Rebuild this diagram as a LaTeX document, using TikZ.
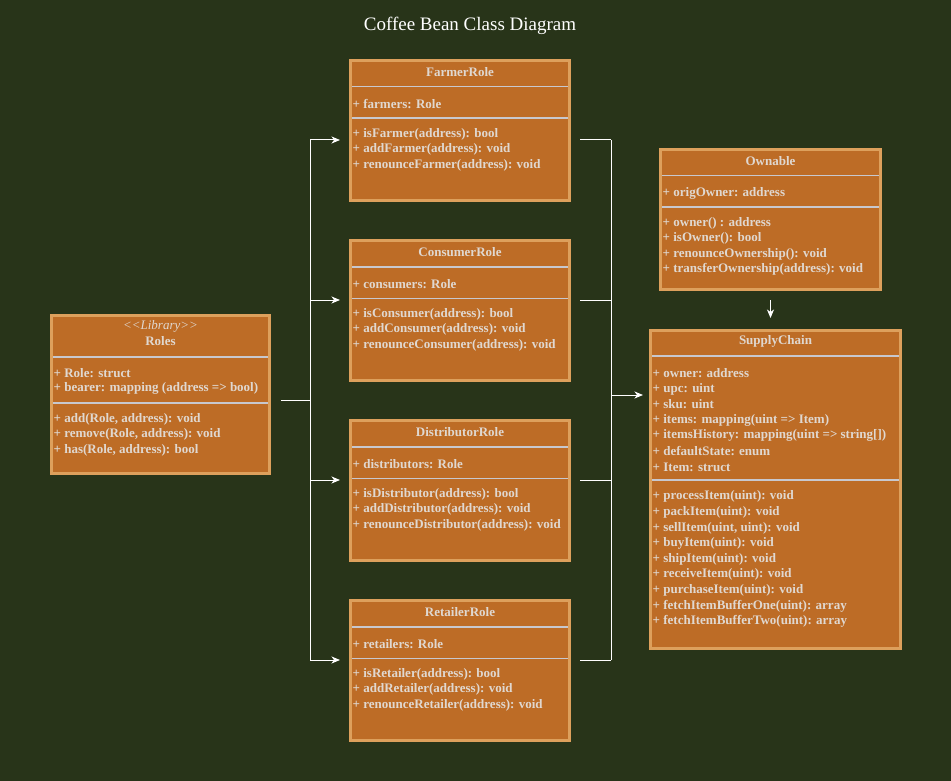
\documentclass[tikz,border=0pt]{standalone}
\usepackage{fontspec}
\setmainfont{Liberation Serif}
\usetikzlibrary{arrows.meta,calc}
\definecolor{bgreen}{RGB}{40,52,25}
\definecolor{bean}{RGB}{189,108,38}
\definecolor{beanedge}{RGB}{221,160,92}
\definecolor{membertext}{RGB}{224,216,208}
\definecolor{divgray}{RGB}{200,200,206}
\tikzset{
  classframe/.style={draw=beanedge, fill=bean, line width=3pt, inner sep=0pt, outer sep=0pt},
  classname/.style={text=membertext, font=\fontsize{13}{15}\selectfont\bfseries, inner sep=0pt},
  member/.style={text=membertext, font=\fontsize{13}{15}\selectfont\bfseries, anchor=west, inner sep=0pt},
  divider/.style={draw=divgray, line width=1.6pt},
  wire/.style={draw=white, line width=1pt},
  tip/.style={-{Stealth[length=8.5pt,width=7pt,inset=2.5pt]}}
}
% #1 name, #2 left, #3 top, #4 width, #5 height
\newcommand{\umlframe}[5]{\node[classframe, minimum width=#4pt-3pt, minimum height=#5pt-3pt] (#1) at (#2+#4/2,#3+#5/2) {};}
% #1 box, #2 offset below its top edge
\newcommand{\umldivider}[2]{\draw[divider] ($(#1.north west)+(1.5,#2)$) -- ($(#1.north east)+(-1.5,#2)$);}
% #1 box, #2 offset of first line, #3 lines
\newcommand{\umlmembers}[3]{%
  \foreach \entry [count=\k from 0] in {#3}
    \node[member] (#1-#2-\k) at ($(#1.north west)+(2,#2+1.3+15.6*\k)$) {\entry};}
\begin{document}
\begin{tikzpicture}[x=1pt,y=-1pt]
\fill[bgreen] (0,0) rectangle (951,781);
\useasboundingbox (0,0) rectangle (951,781);
\node[text=white, font=\fontsize{19}{22}\selectfont] (heading) at (470,26) {Coffee Bean Class Diagram};

% library
\umlframe{roles}{50}{314}{221}{161}
\node[classname, font=\fontsize{13}{15}\selectfont\itshape] (roles-stereo) at ($(roles.north)+(0,10.5)$) {<{}<Library>{}>};
\node[classname] (roles-name) at ($(roles.north)+(0,25.5)$) {Roles};
\umldivider{roles}{41.2}
\umldivider{roles}{87.2}
\umlmembers{roles}{56.3}{+ Role: struct, + bearer: mapping (address => bool)}
\umlmembers{roles}{102.3}{{+ add(Role, address): void}, {+ remove(Role, address): void}, {+ has(Role, address): bool}}

% role contracts
\foreach \n/\top/\title/\attr/\mA/\mB/\mC in {
  farmer/59/FarmerRole/farmers/isFarmer/addFarmer/renounceFarmer,
  consumer/239/ConsumerRole/consumers/isConsumer/addConsumer/renounceConsumer,
  distributor/419/DistributorRole/distributors/isDistributor/addDistributor/renounceDistributor,
  retailer/599/RetailerRole/retailers/isRetailer/addRetailer/renounceRetailer} {
  \umlframe{\n}{349}{\top}{222}{143}
  \node[classname] (\n-name) at ($(\n.north)+(0,11.5)$) {\title};
  \umldivider{\n}{26.2}
  \umldivider{\n}{57.8}
  \umlmembers{\n}{42.2}{+ \attr: Role}
  \umlmembers{\n}{72.2}{+ \mA(address): bool, + \mB(address): void, + \mC(address): void}
}

% ownable
\umlframe{ownable}{659}{148}{223}{143}
\node[classname] (ownable-name) at ($(ownable.north)+(0,11.5)$) {Ownable};
\umldivider{ownable}{26.2}
\umldivider{ownable}{57.5}
\umlmembers{ownable}{42.2}{+ origOwner: address}
\umlmembers{ownable}{72.2}{+ owner() : address, + isOwner(): bool, + renounceOwnership(): void, + transferOwnership(address): void}

% supply chain
\umlframe{supply}{649}{329}{253}{321}
\node[classname] (supply-name) at ($(supply.north)+(0,10.5)$) {SupplyChain};
\umldivider{supply}{25.5}
\umldivider{supply}{149.5}
\umlmembers{supply}{41.5}{+ owner: address, + upc: uint, + sku: uint, + items: mapping(uint => Item), + itemsHistory: mapping(uint => string[]), + defaultState: enum, + Item: struct}
\umlmembers{supply}{165}{+ processItem(uint): void, + packItem(uint): void, {+ sellItem(uint, uint): void}, + buyItem(uint): void, + shipItem(uint): void, + receiveItem(uint): void, + purchaseItem(uint): void, + fetchItemBufferOne(uint): array, + fetchItemBufferTwo(uint): array}

% connectors
\coordinate (lbus) at (310,400);
\coordinate (rbus) at (611,395);
\draw[wire, shorten <=11.5pt] (roles.east |- lbus) -- (lbus);
\draw[wire] (lbus |- 0,140) -- (lbus |- 0,660);
\draw[wire] (rbus |- 0,140) -- (rbus |- 0,660);
\foreach \n/\y in {farmer/140, consumer/300, distributor/480, retailer/660} {
  \draw[wire, tip, shorten >=10.5pt] (lbus |- 0,\y) -- (\n.west |- 0,\y);
  \draw[wire, shorten <=10.5pt] (\n.east |- 0,\y) -- (rbus |- 0,\y);
}
\draw[wire, tip, shorten >=7.5pt] (rbus) -- (supply.west |- rbus);
\draw[wire, tip, shorten <=10.8pt, shorten >=12.5pt] (ownable.south) -- (supply.north -| ownable.south);
\end{tikzpicture}
\end{document}
